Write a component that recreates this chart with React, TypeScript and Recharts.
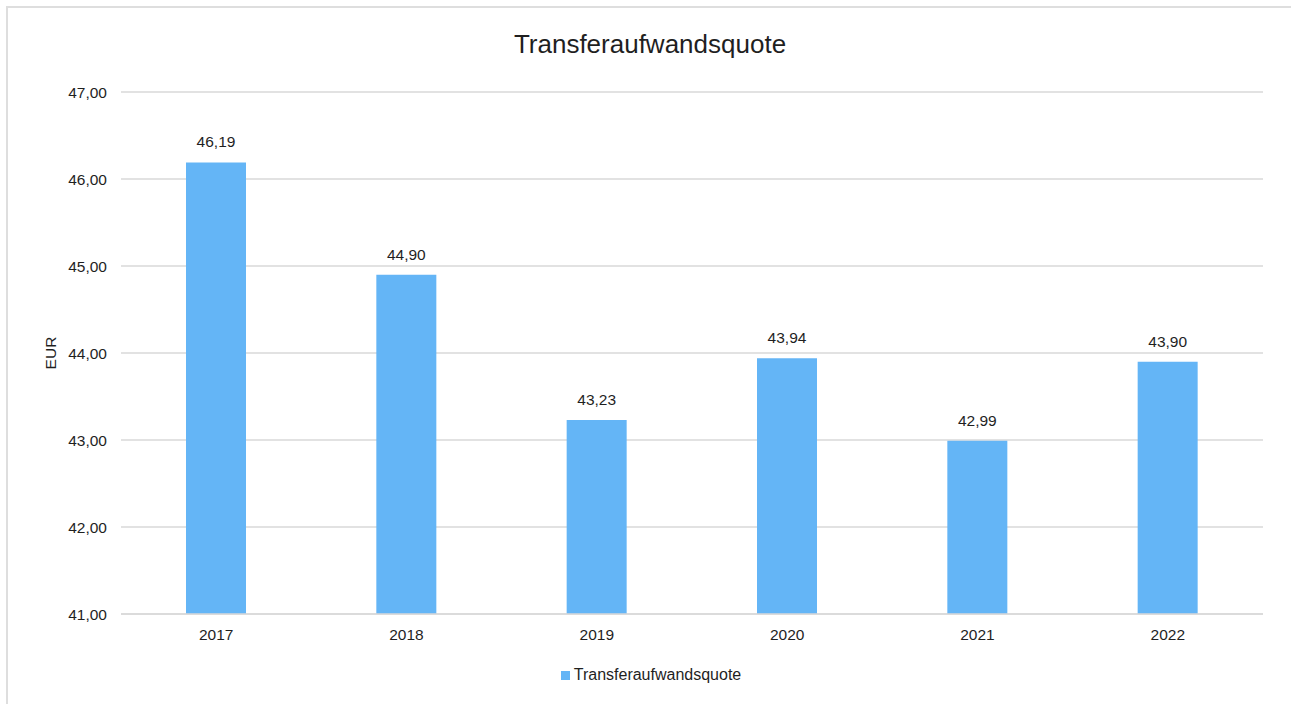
import React from 'react';
import {
  BarChart,
  Bar,
  XAxis,
  YAxis,
  CartesianGrid,
  Legend,
  LabelList,
} from 'recharts';

const years = ['2017', '2018', '2019', '2020', '2021', '2022'];
const quote = [46.19, 44.9, 43.23, 43.94, 42.99, 43.9];
const yTicks = [41, 42, 43, 44, 45, 46, 47];

const chartData = years.map((year, i) => ({ year, quote: quote[i] }));

const fmt = (v: number) => v.toFixed(2).replace('.', ',');

const FONT = '"Liberation Sans", Arial, sans-serif';
const TEXT = '#1f1f1f';

const EurLabel = () => (
  <text
    x={50}
    y={353}
    transform="rotate(-90 50 353)"
    textAnchor="middle"
    dominantBaseline="central"
    fill={TEXT}
    fontSize={15.5}
    fontFamily={FONT}
  >
    EUR
  </text>
);

export default function App() {
  return (
    <div
      style={{
        position: 'absolute',
        left: 0,
        top: 0,
        width: 1291,
        height: 704,
        overflow: 'hidden',
        background: '#fff',
        fontFamily: FONT,
      }}
    >
      <div
        style={{
          position: 'absolute',
          left: 6,
          top: 6,
          width: 1300,
          height: 720,
          borderLeft: '2px solid #dedede',
          borderTop: '2px solid #dedede',
        }}
      />
      <div
        style={{
          position: 'absolute',
          left: 0,
          top: 29,
          width: 1300,
          textAlign: 'center',
          fontSize: 26,
          color: TEXT,
          lineHeight: '30px',
        }}
      >
        Transferaufwandsquote
      </div>
      <BarChart
        width={1291}
        height={704}
        data={chartData}
        margin={{ top: 92, right: 28, bottom: 60, left: 0 }}
        style={{ position: 'absolute', left: 0, top: 0 }}
      >
        <CartesianGrid horizontal vertical={false} stroke="#d9d9d9" strokeWidth={1.5} />
        <XAxis
          dataKey="year"
          height={30}
          tickSize={0}
          tickMargin={15}
          tickLine={false}
          axisLine={{ stroke: '#d9d9d9', strokeWidth: 1.5 }}
          tick={{ fill: TEXT, fontSize: 15.5, fontFamily: FONT }}
        />
        <YAxis
          width={121}
          domain={[41, 47]}
          ticks={yTicks}
          tickSize={0}
          tickMargin={14}
          tickLine={false}
          axisLine={false}
          tickFormatter={fmt}
          tick={{ fill: TEXT, fontSize: 15.5, fontFamily: FONT }}
          label={<EurLabel />}
        />
        <Legend
          verticalAlign="middle"
          align="center"
          iconType="square"
          iconSize={9}
          wrapperStyle={{ top: 666, left: 0, width: 1312, fontSize: 16, fontFamily: FONT }}
          formatter={(value) => <span style={{ color: TEXT }}>{value}</span>}
        />
        <Bar
          dataKey="quote"
          name="Transferaufwandsquote"
          fill="#64B5F6"
          barSize={60}
          isAnimationActive={false}
        >
          <LabelList
            dataKey="quote"
            position="top"
            offset={15}
            formatter={(v: any) => fmt(Number(v))}
            fill={TEXT}
            fontSize={15.5}
            fontFamily={FONT}
          />
        </Bar>
      </BarChart>
    </div>
  );
}
